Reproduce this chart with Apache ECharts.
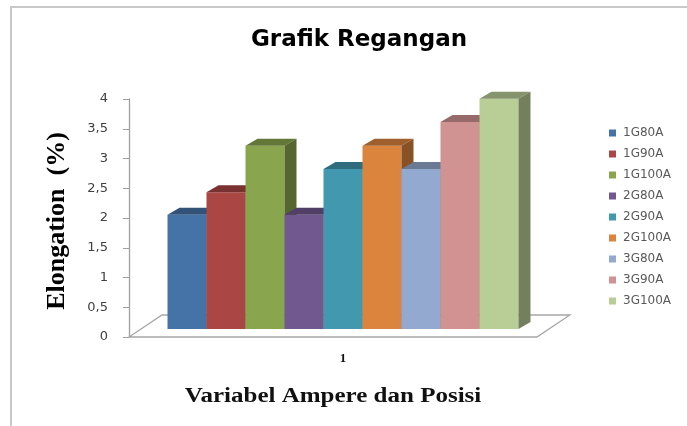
<!DOCTYPE html>
<html><head><meta charset="utf-8">
<script src="https://cdn.jsdelivr.net/npm/echarts@6/dist/echarts.min.js"></script>
<style>html,body{margin:0;padding:0;background:#fff}#c{width:687px;height:426px}</style>
</head><body><div id="c"></div>
<script>
const categories = ['1'];
const seriesNames = ['1G80A','1G90A','1G100A','2G80A','2G90A','2G100A','3G80A','3G90A','3G100A'];
const seriesValues = [1.92, 2.3, 3.08, 1.92, 2.69, 3.08, 2.69, 3.48, 3.87];
const seriesColors = ['#4572A7','#AA4643','#89A54E','#71588F','#4198AF','#DB843D','#93A9CF','#D19392','#B9CD96'];
const yTickLabels = ['0','0,5','1','1,5','2','2,5','3','3,5','4'];

const DEPTH_X = 12, DEPTH_Y = 7, LIFT = 8;
const GROUP_FRAC = 0.82;

function shade(hex, f) {
  const n = parseInt(hex.slice(1), 16);
  const r = Math.round(((n >> 16) & 255) * f), g = Math.round(((n >> 8) & 255) * f), b = Math.round((n & 255) * f);
  return 'rgb(' + r + ',' + g + ',' + b + ')';
}

const chart = echarts.init(document.getElementById('c'), null, {renderer: 'canvas'});

const floorSeries = {
  type: 'custom', name: '_floor', silent: true, z: 1,
  data: [[0, 0]],
  renderItem: function (params, api) {
    const c = api.coord([0, 0]);
    const bw = api.size([1, 0])[0];
    const left = c[0] - bw / 2, y0 = c[1];
    const fw = bw * 0.953, dx = 33, dy = 22;
    return {
      type: 'polygon',
      shape: {points: [[left, y0], [left + fw, y0], [left + fw + dx, y0 - dy], [left + dx, y0 - dy]]},
      style: {fill: '#ffffff', stroke: '#a6a6a6', lineWidth: 1.3}
    };
  }
};

const barSeries = seriesNames.map(function (name, i) {
  return {
    type: 'custom', name: name, z: 2,
    itemStyle: {color: seriesColors[i]},
    data: [[0, seriesValues[i]]],
    renderItem: function (params, api) {
      const c0 = api.coord([api.value(0), 0]);
      const c1 = api.coord([api.value(0), api.value(1)]);
      const bw = api.size([1, 0])[0];
      const gw = bw * GROUP_FRAC, w = gw / seriesNames.length;
      const x0 = c0[0] - gw / 2 + i * w, x1 = x0 + w;
      const yb = c0[1] - LIFT, yt = c1[1] - LIFT;
      const col = seriesColors[i];
      return {
        type: 'group',
        children: [
          {type: 'polygon', shape: {points: [[x0, yb], [x1, yb], [x1, yt], [x0, yt]]},
           style: {fill: col}},
          {type: 'polygon', shape: {points: [[x0, yt], [x1, yt], [x1 + DEPTH_X, yt - DEPTH_Y], [x0 + DEPTH_X, yt - DEPTH_Y]]},
           style: {fill: shade(col, 0.72)}},
          {type: 'polygon', shape: {points: [[x1, yb], [x1 + DEPTH_X, yb - DEPTH_Y], [x1 + DEPTH_X, yt - DEPTH_Y], [x1, yt]]},
           style: {fill: shade(col, 0.62)}}
        ]
      };
    }
  };
});

chart.setOption({
  animation: false,
  backgroundColor: '#ffffff',
  title: {
    text: 'Grafik Regangan', left: 354, top: 24, textAlign: 'center',
    textStyle: {fontFamily: 'DejaVu Sans', fontWeight: 'bold', fontSize: 23, color: '#000000'}
  },
  legend: {
    orient: 'vertical', left: 604, top: 122, itemWidth: 7, itemHeight: 7, itemGap: 9,
    icon: 'rect', data: seriesNames,
    textStyle: {fontFamily: 'DejaVu Sans', fontSize: 12, color: '#595959', lineHeight: 12, padding: [0, 0, 0, 2]}
  },
  grid: {left: 129, right: 130, top: 99, bottom: 89, containLabel: false},
  xAxis: {
    type: 'category', data: categories,
    axisLine: {show: false}, axisTick: {show: false},
    axisLabel: {margin: 15, fontFamily: 'Liberation Serif', fontWeight: 'bold', fontSize: 13, color: '#111111'}
  },
  yAxis: {
    type: 'value', min: 0, max: 4, interval: 0.5,
    axisLine: {show: true, lineStyle: {color: '#a0a0a0', width: 1.3}},
    axisTick: {show: true, length: 6, lineStyle: {color: '#a0a0a0'}},
    splitLine: {show: false},
    axisLabel: {margin: 21, fontFamily: 'DejaVu Sans', fontSize: 13, color: '#404040',
      formatter: function (v) { return yTickLabels[Math.round(v / 0.5)]; }}
  },
  graphic: [
    {type: 'rect', silent: true, shape: {x: 11, y: 7, width: 720, height: 440},
     style: {fill: 'none', stroke: '#c8c8c8', lineWidth: 2}},
    {type: 'text', x: 57, y: 221, rotation: Math.PI / 2,
     style: {text: 'Elongation  (%)', font: 'bold 26px "Liberation Serif"', fill: '#000000', align: 'center', verticalAlign: 'middle'}},
    {type: 'text', x: 333, y: 397, scaleX: 1.25,
     style: {text: 'Variabel Ampere dan Posisi', font: 'bold 20px "Liberation Serif"', fill: '#111111', align: 'center', verticalAlign: 'middle'}}
  ],
  series: [floorSeries].concat(barSeries)
});
</script></body></html>
